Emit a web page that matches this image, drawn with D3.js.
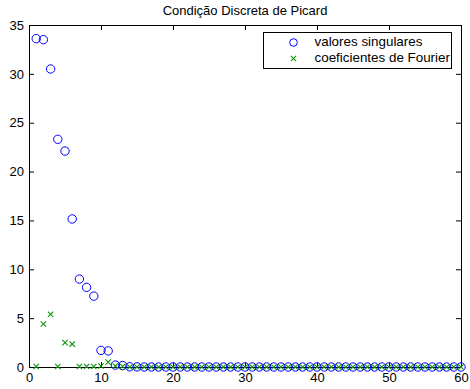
<!DOCTYPE html>
<html>
<head>
<meta charset="utf-8">
<script src="https://cdn.jsdelivr.net/npm/d3@7"></script>
<style>
  html, body { margin: 0; padding: 0; background: #fff; }
  svg { display: block; font-family: "Liberation Sans", Arial, Helvetica, sans-serif; }
</style>
</head>
<body>
<svg id="chart" width="470" height="389"></svg>
<script>
// Índices i = 1..60
const indices = d3.range(1, 61);

// Valores singulares σ_i
const singularValues = [
  33.6, 33.5, 30.5, 23.3, 22.1, 15.15, 9.0, 8.15, 7.25, 1.7,
  1.65, 0.2, 0.15, 0.02, 0.01, 0, 0, 0, 0, 0,
  0, 0, 0, 0, 0, 0, 0, 0, 0, 0,
  0, 0, 0, 0, 0, 0, 0, 0, 0, 0,
  0, 0, 0, 0, 0, 0, 0, 0, 0, 0,
  0, 0, 0, 0, 0, 0, 0, 0, 0, 0
];

// Coeficientes de Fourier |u_i^T b|
const fourierCoefs = [
  0.05, 4.4, 5.4, 0.05, 2.5, 2.35, 0.05, 0.05, 0.05, 0.1,
  0.5, 0.1, 0.05, 0, 0, 0, 0, 0, 0, 0,
  0, 0, 0, 0, 0, 0, 0, 0, 0, 0,
  0, 0, 0, 0, 0, 0, 0, 0, 0, 0,
  0, 0, 0, 0, 0, 0, 0, 0, 0, 0,
  0, 0, 0, 0, 0, 0, 0, 0, 0, 0
];

const xTicks = [0, 10, 20, 30, 40, 50, 60];
const yTicks = [0, 5, 10, 15, 20, 25, 30, 35];
const titleText = "Condição Discreta de Picard";
const legendLabels = ["valores singulares", "coeficientes de Fourier"];

const svg = d3.select("#chart");
const m = { left: 29, right: 9, top: 25, bottom: 22 };
const W = 470, H = 389;
const x = d3.scaleLinear().domain([0, 60]).range([m.left, W - m.right]);
const y = d3.scaleLinear().domain([0, 35]).range([H - m.bottom, m.top]);

const blue = "#0000ff", green = "#0a960a";

// Moldura dos eixos com marcas internas nos quatro lados
const tickLen = 5;
const axB = svg.append("g").attr("transform", `translate(0,${y(0)})`)
  .call(d3.axisBottom(x).tickValues(xTicks).tickSizeInner(-tickLen).tickSizeOuter(0).tickPadding(6));
const axT = svg.append("g").attr("transform", `translate(0,${y(35)})`)
  .call(d3.axisTop(x).tickValues(xTicks).tickSizeInner(-tickLen).tickSizeOuter(0).tickFormat(""));
const axL = svg.append("g").attr("transform", `translate(${x(0)},0)`)
  .call(d3.axisLeft(y).tickValues(yTicks).tickSizeInner(-tickLen).tickSizeOuter(0).tickPadding(5));
const axR = svg.append("g").attr("transform", `translate(${x(60)},0)`)
  .call(d3.axisRight(y).tickValues(yTicks).tickSizeInner(-tickLen).tickSizeOuter(0).tickFormat(""));

[axB, axT, axL, axR].forEach(a => {
  a.select(".domain").attr("stroke", "#000").attr("stroke-width", 1);
  a.selectAll(".tick line").attr("stroke", "#000");
  a.selectAll("text").attr("fill", "#000").attr("font-size", 13)
    .attr("font-family", "Liberation Sans, Arial, sans-serif");
});

// Título
svg.append("text")
  .attr("x", (x(0) + x(60)) / 2).attr("y", 15)
  .attr("text-anchor", "middle").attr("font-size", 13).attr("fill", "#000")
  .text(titleText);

// Marcadores
const plot = svg.append("g");

function drawX(sel, cx, cy, s) {
  sel.append("path")
    .attr("d", `M${cx - s},${cy - s}L${cx + s},${cy + s}M${cx - s},${cy + s}L${cx + s},${cy - s}`)
    .attr("stroke", green).attr("stroke-width", 1.1).attr("fill", "none");
}

plot.selectAll("circle.sv").data(indices).join("circle")
  .attr("class", "sv")
  .attr("cx", d => x(d)).attr("cy", (d, i) => y(singularValues[i]))
  .attr("r", 4.2).attr("fill", "none").attr("stroke", blue).attr("stroke-width", 1);

indices.forEach((d, i) => drawX(plot, x(d), y(fourierCoefs[i]), 2.7));

// Legenda
const lg = svg.append("g");
lg.append("rect").attr("x", 263.5).attr("y", 32.5).attr("width", 188).attr("height", 36)
  .attr("fill", "#fff").attr("stroke", "#000").attr("stroke-width", 1);
lg.append("circle").attr("cx", 293.5).attr("cy", 42.5).attr("r", 3.8)
  .attr("fill", "none").attr("stroke", blue).attr("stroke-width", 1);
drawX(lg, 293.5, 58.5, 2.6);
lg.append("text").attr("x", 314.5).attr("y", 46).attr("font-size", 13.4).attr("fill", "#000").text(legendLabels[0]);
lg.append("text").attr("x", 314.5).attr("y", 62).attr("font-size", 13.4).attr("fill", "#000").text(legendLabels[1]);
</script>
</body>
</html>
